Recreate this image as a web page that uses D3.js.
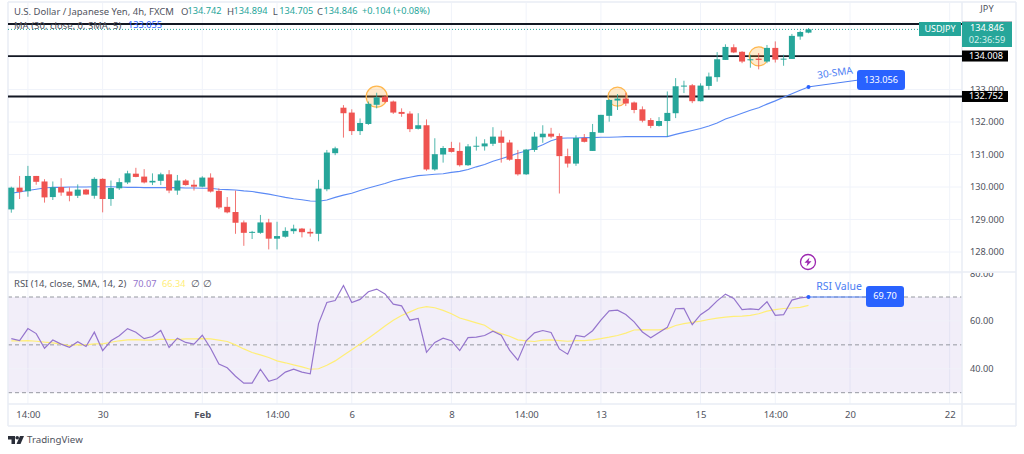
<!DOCTYPE html>
<html>
<head>
<meta charset="utf-8">
<script src="https://cdn.jsdelivr.net/npm/d3@7"></script>
<style>
  html, body { margin: 0; padding: 0; background: #fff; }
  svg { display: block; font-family: "Noto Sans", sans-serif; }
  .axis path, .axis line { display: none; }
</style>
</head>
<body>
<script>
var opens = [
  129.31,129.98,129.87,130.34,130.17,129.69,130.00,129.86,129.73,129.92,
  129.73,130.25,129.63,129.96,130.14,130.41,130.32,130.14,130.19,130.39,
  129.89,130.20,130.07,130.01,130.29,129.88,129.39,129.23,128.91,128.59,
  128.59,128.91,128.41,128.47,128.64,128.72,128.62,128.56,129.93,131.04,
  132.44,132.29,131.72,131.94,132.53,132.78,132.63,132.31,132.26,131.79,
  131.90,130.54,131.00,131.20,131.11,130.67,131.24,131.25,131.33,131.55,
  131.37,130.86,130.39,131.14,131.53,131.64,131.57,130.95,130.72,131.51,
  131.11,131.67,132.19,132.66,132.72,132.60,132.39,132.06,131.88,132.03,
  132.27,133.09,133.13,132.64,133.11,133.38,133.91,134.30,134.16,133.90,
  133.95,133.86,134.28,133.92,133.94,134.63,134.75];
var highs = [
  130.01,130.34,130.65,130.34,130.24,130.17,130.27,129.99,130.08,129.94,
  130.30,130.27,130.20,130.27,130.50,130.59,130.55,130.42,130.44,130.52,
  130.37,130.24,130.22,130.33,130.42,129.96,129.69,129.89,128.97,128.65,
  129.14,129.02,128.93,128.76,128.84,128.74,128.72,130.22,131.14,131.24,
  132.52,132.39,132.11,132.63,132.90,132.83,132.66,132.42,132.33,132.27,
  132.08,131.50,131.26,131.39,131.37,131.32,131.55,131.47,131.84,131.74,
  131.45,131.14,131.17,131.69,131.90,131.82,131.65,131.18,131.59,131.63,
  131.94,132.22,132.70,132.86,132.90,132.63,132.48,132.12,132.15,132.94,
  133.35,133.27,133.17,133.19,133.52,134.15,134.39,134.39,134.18,134.07,
  134.12,134.37,134.48,134.07,134.71,134.81,134.89];
var lows = [
  129.21,129.63,129.70,130.07,129.52,129.60,129.73,129.56,129.66,129.76,
  129.64,129.22,129.42,129.91,130.09,130.30,130.11,130.06,130.06,129.81,
  129.76,130.04,129.89,129.99,129.83,129.32,129.19,128.56,128.19,128.40,
  128.56,128.08,128.08,128.44,128.56,128.45,128.47,128.33,129.87,130.98,
  131.52,131.60,131.60,131.91,132.42,132.59,132.25,132.16,131.69,131.77,
  130.50,130.50,130.75,131.06,130.63,130.65,131.12,131.12,131.26,130.75,
  130.81,130.35,130.37,131.08,131.36,131.50,129.80,130.60,130.65,131.37,
  131.11,131.67,132.01,132.37,132.49,132.27,131.99,131.81,131.86,131.55,
  132.12,132.89,132.58,132.63,132.99,133.24,133.91,134.12,133.81,133.67,
  133.62,133.81,133.83,133.73,133.94,134.53,134.73];
var closes = [
  129.98,129.85,130.34,130.16,129.68,129.99,129.83,129.73,129.92,129.77,
  130.25,129.63,129.97,130.15,130.42,130.31,130.14,130.19,130.39,129.89,
  130.20,130.06,130.01,130.29,129.86,129.37,129.22,128.90,128.59,128.62,
  128.91,128.41,128.49,128.65,128.72,128.61,128.57,129.95,131.06,131.19,
  132.27,131.72,131.97,132.56,132.76,132.62,132.29,132.25,131.78,131.90,
  130.54,131.01,131.20,131.08,130.67,131.25,131.27,131.34,131.55,131.36,
  130.84,130.39,131.15,131.55,131.64,131.55,130.95,130.72,131.51,131.39,
  131.69,132.22,132.68,132.72,132.57,132.37,132.04,131.88,132.03,132.28,
  133.10,133.12,132.64,133.12,133.40,133.93,134.31,134.14,133.86,133.93,
  133.91,134.28,133.92,133.95,134.65,134.77,134.85];
var sma30 = [
  129.81,129.85,129.89,129.93,129.97,129.99,129.99,130.00,130.00,130.00,
  130.01,130.01,130.01,130.00,129.99,129.99,129.98,129.98,129.98,129.98,
  129.98,129.97,129.97,129.96,129.96,129.93,129.92,129.91,129.88,129.86,
  129.82,129.78,129.73,129.68,129.64,129.61,129.57,129.56,129.60,129.68,
  129.75,129.81,129.89,129.97,130.04,130.11,130.19,130.25,130.30,130.35,
  130.37,130.39,130.41,130.45,130.48,130.54,130.62,130.69,130.79,130.87,
  130.95,131.04,131.11,131.19,131.30,131.42,131.50,131.51,131.51,131.52,
  131.52,131.53,131.53,131.54,131.55,131.55,131.55,131.55,131.55,131.55,
  131.62,131.68,131.74,131.80,131.88,131.97,132.09,132.18,132.27,132.36,
  132.44,132.55,132.65,132.76,132.87,132.98,133.08];
var rsi = [
  52.6,51.8,56.8,54.7,48.6,52.0,50.3,49.0,51.3,49.3,
  55.3,47.6,51.7,53.8,56.8,55.3,52.6,53.5,56.0,48.9,
  52.8,51.0,50.3,54.0,48.6,42.0,40.4,36.9,34.0,34.0,
  39.8,34.8,35.8,38.6,39.8,38.6,37.9,58.9,67.7,68.5,
  74.8,67.7,69.0,72.2,73.3,71.3,67.0,66.3,60.3,61.0,
  46.9,51.0,52.8,51.7,47.6,53.0,53.2,53.9,55.7,54.0,
  47.8,43.6,51.7,55.0,56.0,55.2,48.3,46.1,53.9,53.3,
  55.9,60.3,64.2,64.5,62.7,59.6,55.4,53.0,55.2,57.3,
  65.1,65.2,58.4,62.6,65.0,68.4,71.2,69.4,64.7,65.0,
  64.7,68.0,62.3,62.6,68.7,69.6,70.0];
var rsiMa = [
  51.7,51.7,51.8,51.5,51.1,50.8,50.3,49.7,50.1,50.0,
  50.4,50.4,51.1,51.7,52.1,52.2,52.0,52.0,52.4,52.2,
  52.2,52.5,52.5,52.6,52.5,52.0,51.4,50.0,48.3,46.8,
  45.8,44.7,43.3,42.5,41.6,40.8,39.8,40.0,41.5,43.3,
  45.7,48.0,50.4,52.8,55.3,57.9,60.3,62.3,63.8,65.3,
  66.0,65.5,64.4,63.0,61.2,60.2,59.2,58.2,55.9,54.7,
  53.6,52.1,51.7,51.4,52.0,52.1,51.8,51.5,51.8,51.8,
  52.1,52.6,53.2,53.9,54.9,56.2,56.4,56.3,56.3,56.7,
  58.1,58.9,59.4,59.9,60.6,61.2,61.6,61.9,62.0,62.3,
  63.0,64.1,64.7,65.2,65.4,65.7,66.5];

var priceTicks = [128, 129, 130, 131, 132, 133];
var priceGrid = [128, 129, 130, 131, 132, 133, 134, 135];
var rsiTicks = [40, 60, 80];
var rsiLevels = [30, 50, 70];
var timeTicks = [2, 11, 23, 32, 41, 53, 62, 71, 83, 92, 101, 113];
var timeLabels = ["14:00", "30", "Feb", "14:00", "6", "8", "14:00", "13", "15", "14:00", "20", "22"];
var levelPrices = [135.015, 134.03, 132.785];
var levelLabels = ["", "134.008", "132.752"];
var circleCandles = [44, 73, 90];
var circlePrices = [132.78, 132.78, 134.02];
var circleSizes = [10.5, 9.5, 9.5];

var width = 1024, height = 454;
var left = 8, paneRight = 962, outerRight = 1016;
var priceTop = 3, paneSplit = 272, rsiBottom = 404, axisBottom = 426;
var green = "#26a69a", red = "#ef5350", blue = "#2962ff", noteBlue = "#4c7ef3";
var gridColor = "#f0f3fa", textColor = "#50535e";
var textSize = 9.5, digitSize = 9.2;

var svg = d3.select("body").append("svg").attr("width", width).attr("height", height);

var x = d3.scaleLinear().domain([0, 96]).range([11.3, 808.5]);
var y = d3.scaleLinear().domain([128, 134]).range([252, 57]);
var yRsi = d3.scaleLinear().domain([30, 70]).range([392.7, 297]);
var candles = d3.range(opens.length);

svg.append("defs").append("clipPath").attr("id", "rsiAxisClip").append("rect")
    .attr("x", paneRight).attr("y", paneSplit + 1).attr("width", 60).attr("height", rsiBottom - paneSplit);

// grid
svg.append("g").selectAll("line").data(priceGrid).join("line")
    .attr("x1", left).attr("x2", paneRight)
    .attr("y1", function (d) { return y(d); }).attr("y2", function (d) { return y(d); })
    .attr("stroke", gridColor);
svg.append("g").selectAll("line").data(timeTicks).join("line")
    .attr("x1", function (d) { return x(d); }).attr("x2", function (d) { return x(d); })
    .attr("y1", priceTop).attr("y2", rsiBottom)
    .attr("stroke", gridColor);

// rsi band goes under its grid lines
svg.append("rect")
    .attr("x", left).attr("width", paneRight - left)
    .attr("y", yRsi(70)).attr("height", yRsi(30) - yRsi(70))
    .attr("fill", "#7e57c2").attr("fill-opacity", 0.1);
svg.append("g").selectAll("line").data(rsiTicks).join("line")
    .attr("x1", left).attr("x2", paneRight)
    .attr("y1", function (d) { return yRsi(d); }).attr("y2", function (d) { return yRsi(d); })
    .attr("stroke", gridColor).attr("stroke-opacity", 0.7);
svg.append("g").selectAll("line").data(rsiLevels).join("line")
    .attr("x1", left).attr("x2", paneRight)
    .attr("y1", function (d) { return yRsi(d); }).attr("y2", function (d) { return yRsi(d); })
    .attr("stroke", "#9598a1").attr("stroke-width", 1).attr("stroke-dasharray", "4,3");

// frame
var frameLines = [
  [left, priceTop - 1, outerRight, priceTop - 1],
  [left, paneSplit, outerRight, paneSplit],
  [left, rsiBottom, outerRight, rsiBottom],
  [left, axisBottom, outerRight, axisBottom],
  [left, priceTop - 1, left, axisBottom],
  [paneRight, priceTop - 1, paneRight, axisBottom],
  [outerRight, priceTop - 1, outerRight, axisBottom]
];
svg.append("g").selectAll("line").data(frameLines).join("line")
    .attr("x1", function (d) { return d[0]; }).attr("y1", function (d) { return d[1]; })
    .attr("x2", function (d) { return d[2]; }).attr("y2", function (d) { return d[3]; })
    .attr("stroke", "#e9ecf4").attr("stroke-width", 1.5);

// price line of the last close
svg.append("line")
    .attr("x1", left).attr("x2", paneRight)
    .attr("y1", y(closes[96])).attr("y2", y(closes[96]))
    .attr("stroke", green).attr("stroke-width", 1).attr("stroke-dasharray", "1,2");

// horizontal levels
svg.append("g").selectAll("line").data(levelPrices).join("line")
    .attr("x1", left).attr("x2", paneRight)
    .attr("y1", function (d) { return y(d); }).attr("y2", function (d) { return y(d); })
    .attr("stroke", "#131722").attr("stroke-width", 1.8);

// orange circles
svg.append("g").selectAll("circle").data(circleCandles).join("circle")
    .attr("cx", function (d) { return x(d); })
    .attr("cy", function (d, i) { return y(circlePrices[i]); })
    .attr("r", function (d, i) { return circleSizes[i]; })
    .attr("fill", "#ff9800").attr("fill-opacity", 0.2)
    .attr("stroke", "#ffb74d").attr("stroke-width", 1.2);

// moving average
var smaLine = d3.line().x(function (d, i) { return x(i); }).y(function (d) { return y(d); });
svg.append("path").datum(sma30).attr("d", smaLine)
    .attr("fill", "none").attr("stroke", "#5b8af5").attr("stroke-width", 1.1);

// candles
var candleColor = function (i) { return closes[i] >= opens[i] ? green : red; };
svg.append("g").selectAll("line").data(candles).join("line")
    .attr("x1", function (i) { return x(i); }).attr("x2", function (i) { return x(i); })
    .attr("y1", function (i) { return y(highs[i]); }).attr("y2", function (i) { return y(lows[i]); })
    .attr("stroke", candleColor).attr("stroke-opacity", 0.8).attr("stroke-width", 1);
svg.append("g").selectAll("rect").data(candles).join("rect")
    .attr("x", function (i) { return x(i) - 3; }).attr("width", 6)
    .attr("y", function (i) { return Math.min(y(opens[i]), y(closes[i])); })
    .attr("height", function (i) { return Math.max(1, Math.abs(y(opens[i]) - y(closes[i]))); })
    .attr("fill", candleColor);

// rsi lines
var rsiLine = d3.line().x(function (d, i) { return x(i); }).y(function (d) { return yRsi(d); });
svg.append("path").datum(rsiMa).attr("d", rsiLine)
    .attr("fill", "none").attr("stroke", "#ffee77").attr("stroke-width", 1.2);
svg.append("path").datum(rsi).attr("d", rsiLine)
    .attr("fill", "none").attr("stroke", "#9575cd").attr("stroke-width", 1.2);

// axes
var priceAxis = d3.axisRight(y).tickValues(priceTicks).tickFormat(d3.format(".3f")).tickSize(0).tickPadding(0);
var rsiAxis = d3.axisRight(yRsi).tickValues(rsiTicks).tickFormat(d3.format(".2f")).tickSize(0).tickPadding(0);
var timeAxis = d3.axisBottom(x).tickValues(timeTicks)
    .tickFormat(function (d, i) { return timeLabels[i]; }).tickSize(0).tickPadding(0);

svg.append("g").attr("class", "axis").attr("transform", "translate(970,0)").call(priceAxis)
    .selectAll("text").attr("font-size", digitSize).attr("font-family", '"Noto Sans"').attr("fill", textColor);
// the 80.00 label is cut by the pane border in the original
svg.append("g").attr("clip-path", "url(#rsiAxisClip)")
    .append("g").attr("class", "axis").attr("transform", "translate(970,0)").call(rsiAxis)
    .selectAll("text").attr("font-size", digitSize).attr("font-family", '"Noto Sans"').attr("fill", textColor);

var timeG = svg.append("g").attr("class", "axis").attr("transform", "translate(0,411)").call(timeAxis);
timeG.selectAll("text").attr("font-size", textSize).attr("font-family", '"Noto Sans"').attr("fill", textColor)
    .attr("font-weight", function (d, i) { return timeLabels[i] === "Feb" ? "bold" : "normal"; });

function label(txt, px, py, size, fill, anchor) {
    return svg.append("text").attr("x", px).attr("y", py).attr("font-size", size)
        .attr("fill", fill).attr("text-anchor", anchor || "start")
        .attr("dominant-baseline", "middle").text(txt);
}

// header legend
label("U.S. Dollar / Japanese Yen, 4h, FXCM", 14, 12, textSize, textColor);
var legendKeys = ["O", "H", "L", "C"];
var legendValues = ["134.742", "134.894", "134.705", "134.846"];
var legendKeyX = [181, 227, 272.7, 317];
legendKeys.forEach(function (k, i) {
    label(k, legendKeyX[i], 12, textSize, textColor);
    label(legendValues[i], legendKeyX[i] + 6.5, 12, digitSize, green);
});
label("+0.104 (+0.08%)", 362, 12, digitSize, green);
label("MA (30, close, 0, SMA, 5)", 14, 26, textSize, textColor);
label("133.055", 128, 26, digitSize, blue);

label("RSI (14, close, SMA, 14, 2)", 14, 284.5, textSize, textColor);
label("70.07", 133, 284.5, digitSize, "#9575cd");
label("66.34", 162, 284.5, digitSize, "#ffee77");
label("\u2205", 195.7, 284.5, textSize, textColor, "middle");
label("\u2205", 207, 284.5, textSize, textColor, "middle");

// right side labels
label("JPY", 987, 10, digitSize, textColor, "middle");
svg.append("line").attr("x1", paneRight).attr("x2", outerRight - 4).attr("y1", 21.5).attr("y2", 21.5)
    .attr("stroke", "#b2b5be").attr("stroke-width", 1);
svg.append("rect").attr("x", 919).attr("y", 22).attr("width", 42).attr("height", 14).attr("fill", green);
label("USDJPY", 940, 29.5, 9, "#fff", "middle");
svg.append("rect").attr("x", paneRight).attr("y", 22).attr("width", 50).attr("height", 25).attr("fill", green);
label("134.846", 987, 29, digitSize, "#fff", "middle");
label("02:36:59", 987, 40.5, digitSize, "#d5f0ec", "middle");

levelPrices.forEach(function (p, i) {
    if (!levelLabels[i]) return;
    svg.append("rect").attr("x", paneRight).attr("y", y(p) - 5.5).attr("width", 46).attr("height", 11).attr("fill", "#000");
    label(levelLabels[i], 986, y(p) + 0.5, digitSize, "#fff", "middle");
});

// 30-SMA note
var smaEnd = [102, 133.29];
svg.append("line")
    .attr("x1", x(96)).attr("y1", y(sma30[96]))
    .attr("x2", x(smaEnd[0])).attr("y2", y(smaEnd[1]))
    .attr("stroke", noteBlue).attr("stroke-width", 1);
svg.append("circle").attr("cx", x(96)).attr("cy", y(sma30[96])).attr("r", 2).attr("fill", blue);
svg.append("rect").attr("x", 857).attr("y", 70).attr("width", 48).attr("height", 20).attr("rx", 3).attr("fill", blue);
label("133.056", 881, 80.5, digitSize, "#fff", "middle");
label("30-SMA", 835, 73.5, 10, noteBlue, "middle").attr("transform", "rotate(-8 835 73.5)");

// RSI note
var rsiEnd = [107, 70];
svg.append("line")
    .attr("x1", x(96)).attr("y1", yRsi(rsi[96]))
    .attr("x2", x(rsiEnd[0])).attr("y2", yRsi(rsiEnd[1]))
    .attr("stroke", noteBlue).attr("stroke-width", 1);
svg.append("circle").attr("cx", x(96)).attr("cy", yRsi(rsi[96])).attr("r", 2).attr("fill", blue);
svg.append("rect").attr("x", 866).attr("y", 286).attr("width", 38).attr("height", 21).attr("rx", 3).attr("fill", blue);
label("69.70", 885, 296.5, digitSize, "#fff", "middle");
label("RSI Value", 839, 287.5, 10.5, noteBlue, "middle");

// purple event icon
var icon = svg.append("g").attr("transform", "translate(808,262)");
icon.append("circle").attr("r", 7.5).attr("fill", "#fff").attr("stroke", "#9c27b0").attr("stroke-width", 1.3);
icon.append("path").attr("d", "M1.5,-4.5 L-3.5,0.8 L-0.5,0.8 L-1.5,4.5 L3.5,-0.8 L0.5,-0.8 Z").attr("fill", "#9c27b0");

// TradingView logo
var logo = svg.append("g").attr("transform", "translate(8,436)").attr("fill", "#2a2e39");
logo.append("path").attr("d", "M0,0 H7 V8 H3.5 V3.5 H0 Z");
logo.append("circle").attr("cx", 9.2).attr("cy", 1.8).attr("r", 1.8);
logo.append("path").attr("d", "M12,0 H16 L12.5,8 H8.5 Z");
label("TradingView", 27, 440.5, 9.7, "#50535e");
</script>
</body>
</html>
